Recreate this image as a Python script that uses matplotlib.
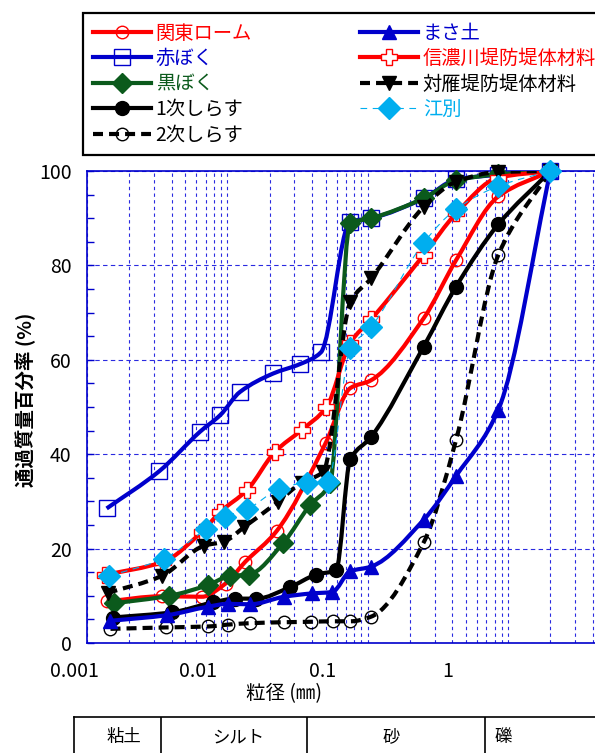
import numpy as np
import matplotlib
matplotlib.use('Agg')
import matplotlib.pyplot as plt
from matplotlib.path import Path
from matplotlib.patches import PathPatch
from matplotlib.lines import Line2D
from matplotlib.ticker import MultipleLocator, NullFormatter, NullLocator

plt.rcParams['font.family'] = ['Noto Sans CJK JP', 'DejaVu Sans']

# 粒径 (mm) と通過質量百分率 (%)
kanto_d = [0.00138, 0.0034, 0.0066, 0.0097, 0.0134, 0.0224, 0.050, 0.075, 0.106, 0.25, 0.425, 0.85, 2.0]
kanto_p = [8.8, 9.9, 9.8, 12.6, 17.2, 23.7, 42.3, 54.0, 55.7, 68.8, 81.1, 94.6, 100]

akaboku_d = [0.00138, 0.00327, 0.0064, 0.0089, 0.0123, 0.0212, 0.0329, 0.0464, 0.075, 0.106, 0.25, 0.425, 0.85, 2.0]
akaboku_p = [28.5, 36.4, 44.8, 48.3, 53.2, 57.1, 59.1, 61.6, 89.3, 90.0, 94.2, 98.2, 99.2, 100]

kuroboku_d = [0.00155, 0.00386, 0.0073, 0.0104, 0.0142, 0.025, 0.0387, 0.0538, 0.075, 0.106, 0.25, 0.425, 0.85, 2.0]
kuroboku_p = [8.4, 10.0, 12.3, 14.2, 14.5, 21.2, 29.2, 33.8, 89.0, 90.0, 94.2, 98.0, 99.3, 100]

shirasu1_d = [0.00153, 0.00403, 0.0079, 0.0114, 0.0161, 0.0278, 0.043, 0.0594, 0.075, 0.106, 0.25, 0.425, 0.85, 2.0]
shirasu1_p = [5.4, 6.5, 8.6, 9.4, 9.4, 11.8, 14.5, 15.4, 38.9, 43.7, 62.8, 75.5, 88.7, 100]

shirasu2_d = [0.00147, 0.00366, 0.0073, 0.0101, 0.0145, 0.0251, 0.0395, 0.0565, 0.075, 0.106, 0.25, 0.425, 0.85, 2.0]
shirasu2_p = [3.0, 3.3, 3.5, 3.9, 4.2, 4.4, 4.5, 4.6, 4.6, 5.6, 21.3, 43.0, 82.2, 100]

masa_d = [0.00147, 0.00373, 0.0073, 0.0101, 0.0145, 0.0253, 0.0398, 0.0558, 0.075, 0.106, 0.25, 0.425, 0.85, 2.0]
masa_p = [4.7, 5.9, 7.7, 8.3, 8.2, 9.8, 10.5, 10.8, 15.2, 16.2, 26.1, 35.4, 49.4, 100]

shinano_d = [0.00134, 0.00349, 0.0066, 0.0089, 0.0138, 0.0218, 0.034, 0.0506, 0.075, 0.106, 0.25, 0.425, 0.85, 2.0]
shinano_p = [14.4, 17.2, 23.6, 27.8, 32.4, 40.5, 45.2, 49.9, 63.6, 68.6, 82.2, 91.0, 98.6, 100]

tsuishikari_d = [0.0014, 0.0034, 0.0068, 0.0095, 0.0132, 0.0229, 0.0338, 0.0482, 0.075, 0.106, 0.25, 0.425, 0.85, 2.0]
tsuishikari_p = [10.6, 14.2, 20.6, 21.5, 24.6, 29.9, 34.0, 36.3, 72.2, 77.3, 92.4, 97.7, 99.8, 100]

ebetsu_d = [0.00144, 0.00354, 0.0070, 0.0096, 0.0137, 0.0234, 0.0367, 0.0518, 0.075, 0.106, 0.25, 0.425, 0.85, 2.0]
ebetsu_p = [14.2, 17.9, 24.1, 26.8, 28.3, 32.6, 34.0, 34.2, 62.4, 67.0, 84.8, 91.9, 96.8, 100]

names = ['関東ローム', '赤ぼく', '黒ぼく', '1次しらす', '2次しらす',
         'まさ土', '信濃川堤防堤体材料', '対雁堤防堤体材料', '江別']

x_ticks = [0.001, 0.01, 0.1, 1]
x_ticklabels = ['0.001', '0.01', '0.1', '1']
soil_bounds = [0.005, 0.075, 2.0]
soil_names = ['粘土', 'シルト', '砂', '礫']
soil_name_x = [0.0025, 0.021, 0.35, 2.8]

RED = '#ff0000'
BLUE = '#0000cc'
GREEN = '#0b5a1c'
CYAN = '#00aeef'
DASH = (2.4, 1.45)

series = [
    dict(d=kanto_d, p=kanto_p, color=RED, dash=None, lw=3,
         marker='o', ms=9, mfc='none', mec=RED),
    dict(d=akaboku_d, p=akaboku_p, color=BLUE, dash=None, lw=3,
         marker='s', ms=11, mfc='none', mec=BLUE),
    dict(d=kuroboku_d, p=kuroboku_p, color=GREEN, dash=None, lw=3,
         marker='D', ms=10.5, mfc=GREEN, mec=GREEN),
    dict(d=shirasu1_d, p=shirasu1_p, color='black', dash=None, lw=3,
         marker='o', ms=10, mfc='black', mec='black'),
    dict(d=shirasu2_d, p=shirasu2_p, color='black', dash=DASH, lw=3,
         marker='o', ms=9, mfc='none', mec='black'),
    dict(d=masa_d, p=masa_p, color=BLUE, dash=None, lw=3,
         marker='^', ms=9.5, mfc=BLUE, mec=BLUE),
    dict(d=shinano_d, p=shinano_p, color=RED, dash=None, lw=3,
         marker='P', ms=11.5, mfc='white', mec=RED),
    dict(d=tsuishikari_d, p=tsuishikari_p, color='black', dash=DASH, lw=3,
         marker='v', ms=10.5, mfc='black', mec='black'),
    dict(d=ebetsu_d, p=ebetsu_p, color=CYAN, dash=(6, 5), lw=0.8,
         marker='D', ms=11.5, mfc=CYAN, mec=CYAN),
]
text_colors = [RED, BLUE, GREEN, 'black', 'black', BLUE, RED, 'black', CYAN]


def smooth_path(d, p):
    # monotone cubic through the points in (log d, p), as Bezier segments
    u = np.log10(np.asarray(d, float))
    v = np.asarray(p, float)
    h = np.diff(u)
    s = np.diff(v) / h
    m = np.zeros_like(v)
    m[0], m[-1] = s[0], s[-1]
    for i in range(1, len(v) - 1):
        if s[i - 1] * s[i] > 0:
            m[i] = 2 * s[i - 1] * s[i] / (s[i - 1] + s[i])
    verts = [(u[0], v[0])]
    codes = [Path.MOVETO]
    for i in range(len(h)):
        verts += [(u[i] + h[i] / 3, v[i] + m[i] * h[i] / 3),
                  (u[i + 1] - h[i] / 3, v[i + 1] - m[i + 1] * h[i] / 3),
                  (u[i + 1], v[i + 1])]
        codes += [Path.CURVE4] * 3
    verts = np.array(verts)
    verts[:, 0] = 10 ** verts[:, 0]
    return Path(verts, codes)


W, H = 595, 753
fig = plt.figure(figsize=(W / 100, H / 100), dpi=100)


def box(left, top, right, bottom):
    return [left / W, 1 - bottom / H, (right - left) / W, (bottom - top) / H]


# tick labels, axis title and soil classes share one log scale
ax_lab = fig.add_axes(box(74, 171, 572, 643))
ax_lab.set_xscale('log')
ax_lab.set_xlim(1e-3, 10)
ax_lab.set_xticks(x_ticks)
ax_lab.set_xticklabels(x_ticklabels, fontsize=14)
ax_lab.xaxis.set_minor_locator(NullLocator())
ax_lab.tick_params(axis='x', length=0, pad=13)
ax_lab.set_yticks([])
ax_lab.patch.set_visible(False)
for sp in ax_lab.spines.values():
    sp.set_visible(False)
ax_lab.set_xlabel('粒径 (㎜)', fontsize=14)
ax_lab.xaxis.set_label_coords((284 - 74) / 498, -0.085)

ax_tab = fig.add_axes(box(74, 717, 620, 790))
ax_tab.set_xscale('log')
ax_tab.set_xlim(1e-3, 1e-3 * 10 ** ((620 - 74) / 124.5))
ax_tab.set_ylim(0, 1)
ax_tab.xaxis.set_major_locator(NullLocator())
ax_tab.xaxis.set_minor_locator(NullLocator())
ax_tab.set_yticks([])
ax_tab.spines['right'].set_visible(False)
ax_tab.spines['bottom'].set_visible(False)
for sp in ('left', 'top'):
    ax_tab.spines[sp].set_linewidth(1.2)
for b in soil_bounds:
    ax_tab.axvline(b, color='black', lw=1.2)
for name, xc in zip(soil_names, soil_name_x):
    ax_tab.text(xc, 0.72, name, ha='center', va='center', fontsize=12.5)

# main grading chart
ax = fig.add_axes(box(87, 171, 87 + 4 * 140.4, 643))
ax.set_xscale('log')
ax.set_xlim(1e-3, 10)
ax.set_ylim(0, 100)
ax.yaxis.set_major_locator(MultipleLocator(20))
ax.yaxis.set_minor_locator(MultipleLocator(5))
ax.xaxis.set_major_formatter(NullFormatter())
ax.xaxis.set_minor_formatter(NullFormatter())
ax.tick_params(axis='x', which='both', length=0)
ax.tick_params(axis='y', which='both', direction='in', length=5,
               color=BLUE, width=1, labelsize=14, pad=11)
ax.grid(True, axis='x', which='both', color='#2a2ae0', lw=0.8, dashes=(3, 3))
ax.grid(True, axis='y', which='major', color='#2a2ae0', lw=0.8, dashes=(4, 3))
ax.spines['right'].set_visible(False)
for sp in ('left', 'top', 'bottom'):
    ax.spines[sp].set_color(BLUE)
    ax.spines[sp].set_linewidth(1.2)
ax.set_ylabel('通過質量百分率 (%)', fontsize=14, fontweight='bold')
ax.yaxis.set_label_coords(-0.093, 0.515)

handles = []
for i, s in enumerate(series):
    ls = (0, s['dash']) if s['dash'] else '-'
    patch = PathPatch(smooth_path(s['d'], s['p']), fill=False, edgecolor=s['color'],
                      lw=s['lw'], linestyle=ls, zorder=3 + i * 0.1,
                      capstyle='butt', joinstyle='round')
    ax.add_patch(patch)
    ax.plot(s['d'], s['p'], linestyle='none', marker=s['marker'], ms=s['ms'],
            mfc=s['mfc'], mec=s['mec'], mew=1, zorder=3.05 + i * 0.1, clip_on=False)
    handles.append(Line2D([], [], color=s['color'], lw=s['lw'],
                          linestyle=ls, marker=s['marker'], ms=s['ms'],
                          mfc=s['mfc'], mec=s['mec'], mew=1))

leg = fig.legend(handles, names, loc='upper left', bbox_to_anchor=(83 / W, 1 - 13 / H),
                 ncol=2, fontsize=13.9, frameon=True, fancybox=False, framealpha=1,
                 edgecolor='black', handlelength=3.0, handletextpad=0.26,
                 columnspacing=5.6, labelspacing=0.23, borderpad=0.5,
                 borderaxespad=0, numpoints=1)
leg.get_frame().set_linewidth(1.6)
for t, c in zip(leg.get_texts(), text_colors):
    t.set_color(c)

fig.savefig('out.png', dpi=100)
